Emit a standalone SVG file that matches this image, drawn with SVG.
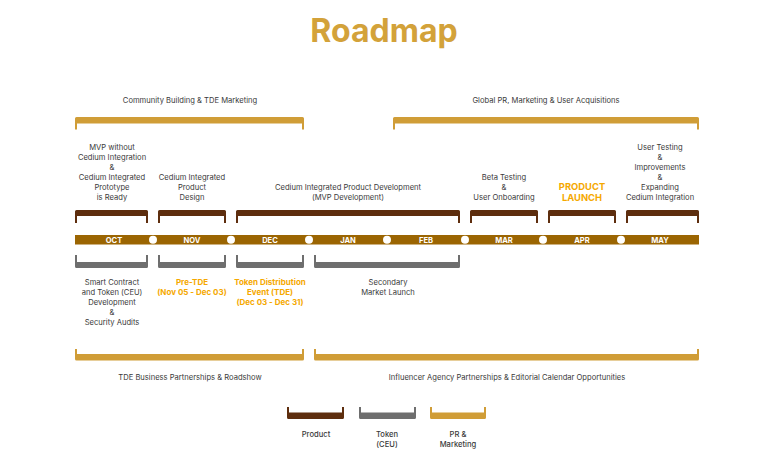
<svg xmlns="http://www.w3.org/2000/svg" width="768" height="463" viewBox="0 0 768 463">
<style>
text{font-family:Inter,"Noto Sans","Liberation Sans",sans-serif;text-anchor:middle}
.t{font-size:7.6px;fill:#3a3a3a}
.o{font-size:8px;font-weight:700;fill:#F5A800}
.big{font-size:9.4px;font-weight:700;fill:#F5A800}
.m{font-size:7.6px;font-weight:700;fill:#fff}
.lg{font-size:7.6px;font-weight:500;fill:#3a3a3a}
.gold{fill:#D09D37}.brown{fill:#5E2E0E}.grey{fill:#6E6E6E}
</style>
<rect width="768" height="463" fill="#fff"/>
<text x="384" y="42" style="font-size:32px;font-weight:700;fill:#D3A23A">Roadmap</text>
<g id="connectors">
<path class="gold" d="M75 129.5V118.5Q75 117 76.5 117H302.5Q304 117 304 118.5V129.5H302V123.5H77V129.5Z"/>
<path class="gold" d="M393 129.5V118.5Q393 117 394.5 117H697.5Q699 117 699 118.5V129.5H697V123.5H395V129.5Z"/>
<path class="brown" d="M75 223V211.5Q75 210 76.5 210H146.5Q148 210 148 211.5V223H146V216H77V223Z"/>
<path class="brown" d="M158 223V211.5Q158 210 159.5 210H224.5Q226 210 226 211.5V223H224V216H160V223Z"/>
<path class="brown" d="M236 223V211.5Q236 210 237.5 210H458.5Q460 210 460 211.5V223H458V216H238V223Z"/>
<path class="brown" d="M470 223V211.5Q470 210 471.5 210H536.5Q538 210 538 211.5V223H536V216H472V223Z"/>
<path class="brown" d="M548 223V211.5Q548 210 549.5 210H614.5Q616 210 616 211.5V223H614V216H550V223Z"/>
<path class="brown" d="M626 223V211.5Q626 210 627.5 210H697.5Q699 210 699 211.5V223H697V216H628V223Z"/>
<path class="grey" d="M75 255V266.5Q75 268 76.5 268H146.5Q148 268 148 266.5V255H146V262H77V255Z"/>
<path class="grey" d="M158 255V266.5Q158 268 159.5 268H224.5Q226 268 226 266.5V255H224V262H160V255Z"/>
<path class="grey" d="M236 255V266.5Q236 268 237.5 268H302.5Q304 268 304 266.5V255H302V262H238V255Z"/>
<path class="grey" d="M314 255V266.5Q314 268 315.5 268H458.5Q460 268 460 266.5V255H458V262H316V255Z"/>
<path class="gold" d="M75 349V359Q75 360.5 76.5 360.5H302.5Q304 360.5 304 359V349H302V354H77V349Z"/>
<path class="gold" d="M314 349V359Q314 360.5 315.5 360.5H697.5Q699 360.5 699 359V349H697V354H316V349Z"/>
</g>
<g id="timeline">
<rect x="75" y="235" width="624" height="9.5" fill="#9B6502"/>
<g fill="#fff">
<circle cx="153" cy="239.7" r="4"/><circle cx="231" cy="239.7" r="4"/><circle cx="309" cy="239.7" r="4"/><circle cx="387" cy="239.7" r="4"/><circle cx="465" cy="239.7" r="4"/><circle cx="543" cy="239.7" r="4"/><circle cx="621" cy="239.7" r="4"/>
</g>
<text class="m" x="114" y="242.5">OCT</text>
<text class="m" x="192" y="242.5">NOV</text>
<text class="m" x="270" y="242.5">DEC</text>
<text class="m" x="348" y="242.5">JAN</text>
<text class="m" x="426" y="242.5">FEB</text>
<text class="m" x="504" y="242.5">MAR</text>
<text class="m" x="582" y="242.5">APR</text>
<text class="m" x="660" y="242.5">MAY</text>
</g>
<g id="community"><text class="t" x="190" y="102.5">Community Building &amp; TDE Marketing</text></g>
<g id="global"><text class="t" x="546" y="102.5">Global PR, Marketing &amp; User Acquisitions</text></g>
<g id="mvp"><text class="t" x="112"><tspan x="112" y="150">MVP without</tspan><tspan x="112" y="160">Cedium Integration</tspan><tspan x="112" y="170">&amp;</tspan><tspan x="112" y="180">Cedium Integrated</tspan><tspan x="112" y="190">Prototype</tspan><tspan x="112" y="200">is Ready</tspan></text></g>
<g id="design"><text class="t"><tspan x="192" y="180">Cedium Integrated</tspan><tspan x="192" y="190">Product</tspan><tspan x="192" y="200">Design</tspan></text></g>
<g id="development"><text class="t"><tspan x="348" y="190">Cedium Integrated Product Development</tspan><tspan x="348" y="200">(MVP Development)</tspan></text></g>
<g id="beta"><text class="t"><tspan x="504" y="180">Beta Testing</tspan><tspan x="504" y="190">&amp;</tspan><tspan x="504" y="200">User Onboarding</tspan></text></g>
<g id="launch"><text class="big"><tspan x="582" y="189.5">PRODUCT</tspan><tspan x="582" y="200.5">LAUNCH</tspan></text></g>
<g id="usertesting"><text class="t"><tspan x="660" y="150">User Testing</tspan><tspan x="660" y="160">&amp;</tspan><tspan x="660" y="170">Improvements</tspan><tspan x="660" y="180">&amp;</tspan><tspan x="660" y="190">Expanding</tspan><tspan x="660" y="200">Cedium Integration</tspan></text></g>
<g id="smartcontract"><text class="t"><tspan x="112" y="285">Smart Contract</tspan><tspan x="112" y="295">and Token (CEU)</tspan><tspan x="112" y="305">Development</tspan><tspan x="112" y="315">&amp;</tspan><tspan x="112" y="325">Security Audits</tspan></text></g>
<g id="pretde"><text class="o"><tspan x="192" y="285">Pre-TDE</tspan><tspan x="192" y="295">(Nov 05 - Dec 03)</tspan></text></g>
<g id="tde"><text class="o"><tspan x="270" y="285">Token Distribution</tspan><tspan x="270" y="295">Event (TDE)</tspan><tspan x="270" y="305">(Dec 03 - Dec 31)</tspan></text></g>
<g id="secondary"><text class="t"><tspan x="388" y="285">Secondary</tspan><tspan x="388" y="295">Market Launch</tspan></text></g>
<g id="tdebusiness"><text class="t" x="190" y="379.5">TDE Business Partnerships &amp; Roadshow</text></g>
<g id="influencer"><text class="t" x="507" y="379.5">Influencer Agency Partnerships &amp; Editorial Calendar Opportunities</text></g>
<g id="legend">
<path class="brown" d="M287 407V417.5Q287 419 288.5 419H342.5Q344 419 344 417.5V407H342V412.5H289V407Z"/>
<path class="grey" d="M359 407V417.5Q359 419 360.5 419H414.5Q416 419 416 417.5V407H414V412.5H361V407Z"/>
<path class="gold" d="M430 407V417.5Q430 419 431.5 419H484.5Q486 419 486 417.5V407H484V412.5H432V407Z"/>
<text class="lg" x="316" y="437">Product</text>
<text class="lg"><tspan x="387" y="437">Token</tspan><tspan x="387" y="447">(CEU)</tspan></text>
<text class="lg"><tspan x="458" y="437">PR &amp;</tspan><tspan x="458" y="447">Marketing</tspan></text>
</g>
</svg>
